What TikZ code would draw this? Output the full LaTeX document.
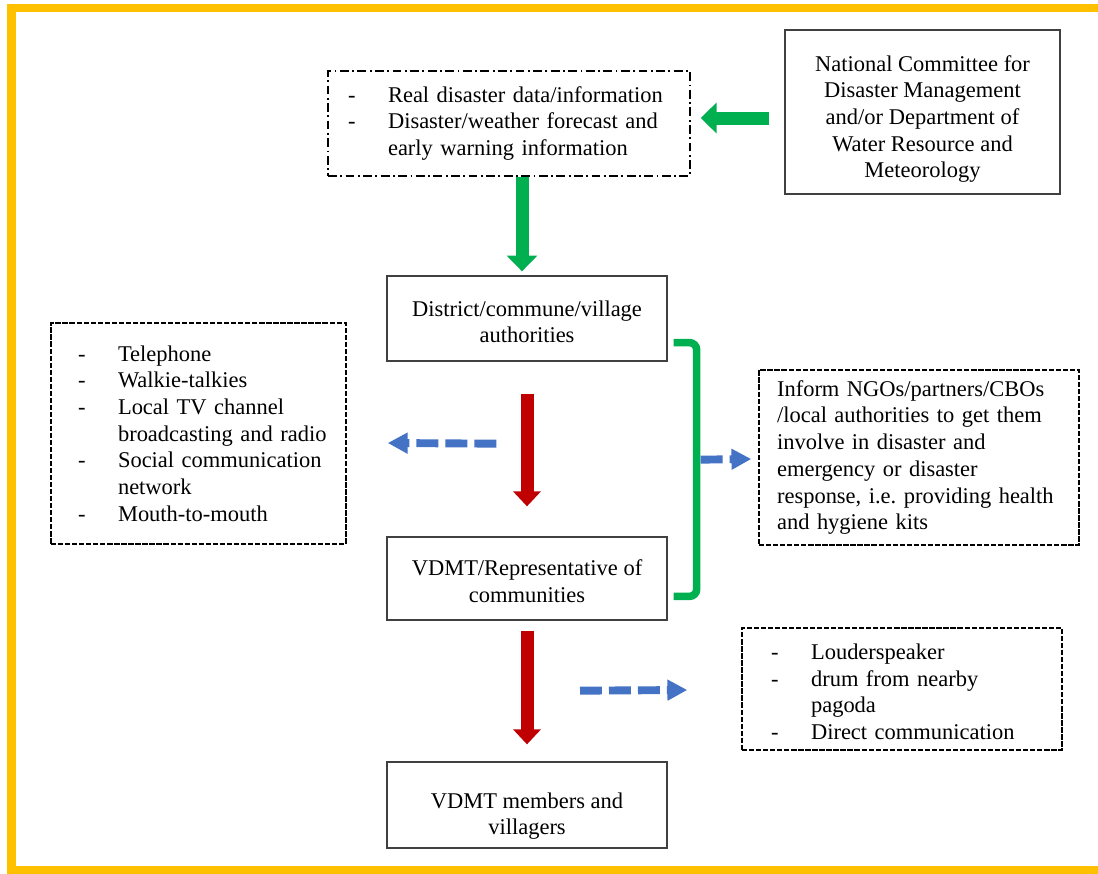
\documentclass[tikz,border=0pt]{standalone}
\usepackage{fontspec}
\setmainfont{Liberation Serif}
\usetikzlibrary{arrows.meta,calc}
\definecolor{frameyellow}{RGB}{255,192,0}
\definecolor{flowgreen}{RGB}{0,176,80}
\definecolor{flowred}{RGB}{192,0,0}
\definecolor{flowblue}{RGB}{68,114,196}
\newcommand{\dashitem}{\makebox[0.8cm][l]{-}}
\newcommand{\contline}{\hspace*{0.8cm}}
\newcommand{\topgap}[1]{\rule{0pt}{#1}}

\begin{document}
\frenchspacing
\begin{tikzpicture}[x=0.02cm,y=-0.02cm,
          font=\fontsize{12.8}{15.2}\selectfont,
          frameline/.style={draw=frameyellow,line width=4.7pt},
          solidbox/.style={draw=black!75,line width=0.75pt,inner sep=0pt,align=center},
          listbox/.style={draw=black,line width=0.85pt,dash pattern=on 3pt off 1pt,
                          align=left,inner ysep=0pt},
          greenarrow/.style={draw=flowgreen,line width=7.4pt,-{Triangle[width=17pt,length=9pt]}},
          redarrow/.style={draw=flowred,line width=7.4pt,-{Triangle[width=15.3pt,length=8.5pt]}},
          bluearrow/.style={draw=flowblue,line width=4.5pt,dash pattern=on 12.5pt off 4pt,
                            -{Triangle[width=11.3pt,length=11.3pt]}},
          bracket/.style={draw=flowgreen,line width=4.3pt,rounded corners=4pt}]
        \useasboundingbox (0,0) rectangle (1098,873);
        \draw[frameline] (1098,8) -- (11.5,8) -- (11.5,870) -- (1098,870);

        \node[listbox,dash pattern=on 5pt off 2pt on 1pt off 2pt,text width=6.6cm,
              inner xsep=0.32cm,minimum height=2.1cm] (info) at (509,123.5)
          {\hspace*{0.08cm}\dashitem Real disaster data/information\\
           \hspace*{0.08cm}\dashitem Disaster/weather forecast and\\
           \hspace*{0.08cm}\contline early warning information};
        \node[solidbox,minimum width=5.5cm,minimum height=3.28cm] (natl) at (922.5,112)
          {\topgap{17pt}National Committee for\\Disaster Management\\and/or Department of\\
           Water Resource and\\Meteorology};
        \node[solidbox,minimum width=5.6cm,minimum height=1.7cm] (dist) at (527,318.5)
          {\topgap{12.5pt}District/commune/village\\authorities};
        \node[solidbox,minimum width=5.6cm,minimum height=1.66cm] (vdmt) at (527,578.5)
          {\topgap{12pt}VDMT/Representative of\\communities};
        \node[solidbox,minimum width=5.6cm,minimum height=1.72cm] (memb) at (527,805)
          {\topgap{21.5pt}VDMT members and\\villagers};
        \node[listbox,text width=5.4cm,inner xsep=0.25cm,minimum height=4.42cm] (chan) at (198.5,433.5)
          {\hspace*{0.29cm}\dashitem Telephone\\
           \hspace*{0.29cm}\dashitem Walkie-talkies\\
           \hspace*{0.29cm}\dashitem Local TV channel\\
           \hspace*{0.29cm}\contline broadcasting and radio\\
           \hspace*{0.29cm}\dashitem Social communication\\
           \hspace*{0.29cm}\contline network\\
           \hspace*{0.29cm}\dashitem Mouth-to-mouth};
        \node[listbox,text width=5.9cm,inner xsep=0.25cm,minimum height=3.5cm] (ngo) at (919,457.5)
          {\hspace*{0.11cm}Inform NGOs/partners/CBOs\\
           \hspace*{0.11cm}/local authorities to get them\\
           \hspace*{0.11cm}involve in disaster and\\
           \hspace*{0.11cm}emergency or disaster\\
           \hspace*{0.11cm}response, i.e. providing health\\
           \hspace*{0.11cm}and hygiene kits};
        \node[listbox,text width=5.5cm,inner xsep=0.45cm,minimum height=2.44cm] (loud) at (902,689)
          {\hspace*{0.13cm}\dashitem\topgap{12pt}Louderspeaker\\
           \hspace*{0.13cm}\dashitem drum from nearby\\
           \hspace*{0.13cm}\contline pagoda\\
           \hspace*{0.13cm}\dashitem Direct communication};

        \draw[greenarrow] ($(natl.west)+(-15,6)$) -- ($(info.east)+(10,-5.5)$);
        \draw[greenarrow] ($(info.south)+(13,0)$) -- ($(dist.north)+(-5,-4)$);
        \draw[redarrow] ($(dist.south)+(0,32)$) -- ($(vdmt.north)+(0,-30)$);
        \draw[redarrow] ($(vdmt.south)+(0,10)$) -- ($(memb.north)+(0,-17)$);
        \draw[bluearrow] ($(dist.south west)+(110,82)$) -- ($(chan.east)+(41,9.5)$);

        \draw[bracket] ($(dist.south east)+(6,-19)$) -- ++(23,0) |- ($(vdmt.north east)+(6,60)$);
        \coordinate (bkt) at ($(dist.south east)+(33,98)$);
        \draw[bluearrow] (bkt) -- ($(ngo.west)+(-7,1.5)$);
        \draw[bluearrow] ($(vdmt.south)+(53,70)$) -- ($(loud.west)+(-54,1)$);
      \end{tikzpicture}
\end{document}
